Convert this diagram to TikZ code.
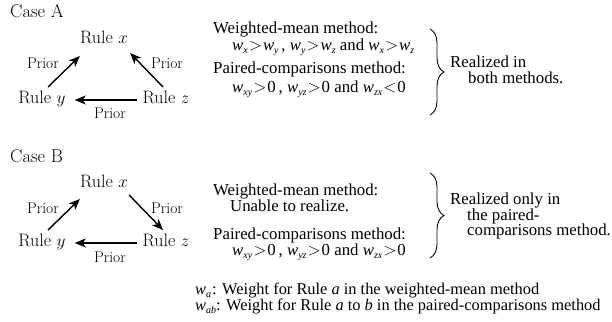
\documentclass[tikz,border=0pt]{standalone}
\usepackage{fontspec}
\newfontfamily\tms{Liberation Serif}
\usetikzlibrary{arrows.meta,decorations.pathreplacing}
\newcommand\wsb[1]{\textit{w}\raisebox{-0.45ex}{\fontsize{10}{10}\selectfont\itshape #1}}
\newcommand\gtr{\kern1pt$>$\kern1pt}
\newcommand\lss{\kern1pt$<$\kern1pt}
\tikzset{
  lm/.style={inner sep=0pt,anchor=base,font=\fontsize{18}{18}\selectfont},
  casel/.style={inner sep=0pt,anchor=base west,font=\fontsize{18.5}{18.5}\selectfont},
  prior/.style={inner sep=0pt,font=\fontsize{15.5}{15.5}\selectfont},
  tx/.style={inner sep=0pt,anchor=base west,font=\tms\fontsize{16.8}{16.8}\selectfont},
  lg/.style={inner sep=0pt,anchor=base west,font=\tms\fontsize{16.4}{16.4}\selectfont},
  arr/.style={line width=1.4pt,-{Stealth[length=11pt,width=9pt,inset=3pt]}},
  brc/.style={line width=0.9pt,decorate,decoration={brace,amplitude=14pt}}
}
\begin{document}
\begin{tikzpicture}[x=1pt,y=-1pt]
\useasboundingbox (0,0) rectangle (612,321);
% ---------- Case A ----------
\node[casel] (caseA) at (10,18) {Case A};
\node[lm] (ax) at (104,44) {Rule $x$};
\node[lm] (ay) at (42,103) {Rule $y$};
\node[lm] (az) at (166,103) {Rule $z$};
\draw[arr] ([shift={(6pt,16pt)}]ay.base) -- ([shift={(0pt,-12pt)}]ax.base west);
\draw[arr] ([shift={(-3pt,16pt)}]az.base) -- ([shift={(2pt,-9pt)}]ax.base east);
\draw[arr] ([shift={(-5pt,3pt)}]az.base west) -- ([shift={(9pt,3pt)}]ay.base east);
\node[prior] (apl) at (43,63) {Prior};
\node[prior] (apr) at (167,63) {Prior};
\node[prior] (apb) at (110,113) {Prior};
% right text A
\node[tx] (wmA) at (213,34) {Weighted-mean method:};
\node[tx] (wmA2) at (232,50) {\wsb{x}\gtr\wsb{y}\,,\ \wsb{y}\gtr\wsb{z}\ and \wsb{x}\gtr\wsb{z}};
\node[tx] (pcA) at (213,74) {Paired-comparisons method:};
\node[tx] (pcA2) at (232,92) {\wsb{xy}\gtr0\,,\ \wsb{yz}\gtr0 and \wsb{zx}\lss0};
\coordinate (bA1) at (430,29);
\coordinate (bA2) at (430,115);
\draw[brc] (bA1) -- (bA2);
\node[tx] (rA1) at (450,67) {Realized in};
\node[tx] (rA2) at (468,83) {both methods.};
% ---------- Case B ----------
\node[casel] (caseB) at (10,162) {Case B};
\node[lm] (bx) at (104,187) {Rule $x$};
\node[lm] (by) at (42,246) {Rule $y$};
\node[lm] (bz) at (166,246) {Rule $z$};
\draw[arr] ([shift={(6pt,16pt)}]by.base) -- ([shift={(0pt,-12pt)}]bx.base west);
\draw[arr] ([shift={(1pt,-8pt)}]bx.base east) -- ([shift={(-3pt,16pt)}]bz.base);
\draw[arr] ([shift={(-5pt,3pt)}]bz.base west) -- ([shift={(9pt,3pt)}]by.base east);
\node[prior] (bpl) at (43,208) {Prior};
\node[prior] (bpr) at (167,208) {Prior};
\node[prior] (bpb) at (110,257) {Prior};
% right text B
\node[tx] (wmB) at (213,195) {Weighted-mean method:};
\node[tx] (wmB2) at (230,211) {Unable to realize.};
\node[tx] (pcB) at (213,239) {Paired-comparisons method:};
\node[tx] (pcB2) at (232,255) {\wsb{xy}\gtr0\,,\ \wsb{yz}\gtr0 and \wsb{zx}\gtr0};
\coordinate (bB1) at (430,173);
\coordinate (bB2) at (430,258);
\draw[brc] (bB1) -- (bB2);
\node[tx] (rB1) at (450,204) {Realized only in};
\node[tx] (rB2) at (467,220) {the paired-};
\node[tx] (rB3) at (467,235) {comparisons method.};
% ---------- legend ----------
\node[lg] (l1) at (195,294) {\wsb{a}};
\node[lg] (l1t) at (212,294) {: Weight for Rule \textit{a} in the weighted-mean method};
\node[lg] (l2) at (195,310) {\wsb{ab}: Weight for Rule \textit{a} to \textit{b} in the paired-comparisons method};
\end{tikzpicture}
\end{document}
